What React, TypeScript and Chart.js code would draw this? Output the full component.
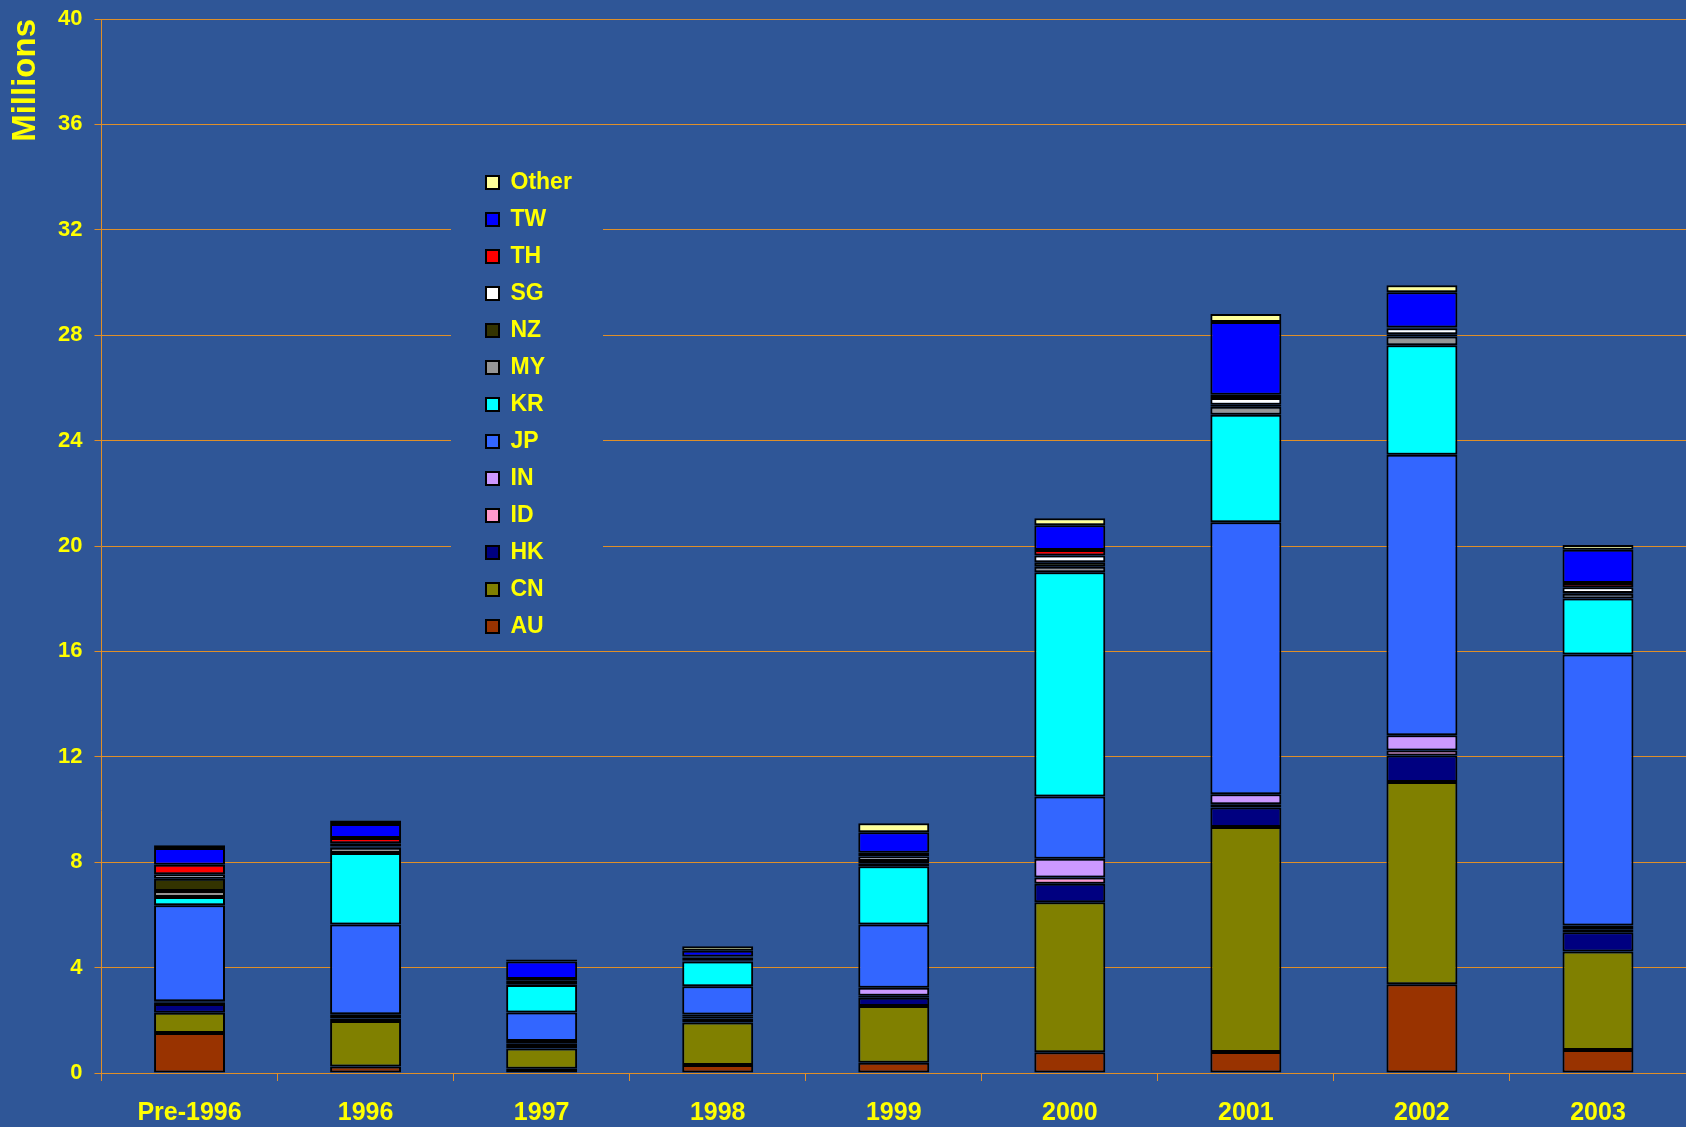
import React, { useEffect, useRef } from "react";
import { Chart, registerables } from "chart.js";

Chart.register(...registerables);

const categories = ["Pre-1996", "1996", "1997", "1998", "1999", "2000", "2001", "2002", "2003"];

const AU = [1.52, 0.25, 0.16, 0.30, 0.39, 0.79, 0.80, 3.37, 0.87];
const CN = [0.77, 1.72, 0.77, 1.62, 2.15, 5.69, 8.54, 7.67, 3.74];
const HK = [0.33, 0.10, 0.13, 0.15, 0.32, 0.70, 0.74, 1.01, 0.73];
const ID = [0.05, 0.13, 0.05, 0.08, 0.07, 0.24, 0.12, 0.19, 0.12];
const IN = [0.05, 0.03, 0.10, 0.07, 0.31, 0.71, 0.38, 0.58, 0.14];
const JP = [3.65, 3.41, 1.09, 1.07, 2.40, 2.36, 10.32, 10.64, 10.28];
const KR = [0.31, 2.71, 1.04, 0.94, 2.21, 8.51, 4.08, 4.16, 2.13];
const MY = [0.23, 0.20, 0.03, 0.03, 0.09, 0.21, 0.30, 0.33, 0.18];
const NZ = [0.46, 0.05, 0.12, 0.12, 0.11, 0.17, 0.08, 0.09, 0.03];
const SG = [0.17, 0.12, 0.03, 0.02, 0.17, 0.26, 0.26, 0.22, 0.21];
const TH = [0.36, 0.20, 0.05, 0.02, 0.14, 0.21, 0.12, 0.03, 0.17];
const TW = [0.64, 0.53, 0.66, 0.22, 0.78, 0.94, 2.76, 1.34, 1.26];
const Other = [0.10, 0.13, 0.08, 0.17, 0.34, 0.26, 0.30, 0.27, 0.18];

const seriesNames = ["AU", "CN", "HK", "ID", "IN", "JP", "KR", "MY", "NZ", "SG", "TH", "TW", "Other"];
const seriesValues = [AU, CN, HK, ID, IN, JP, KR, MY, NZ, SG, TH, TW, Other];
const seriesColors = [
  "#993300", "#808000", "#000080", "#FF99CC", "#CC99FF", "#3366FF",
  "#00FFFF", "#969696", "#333300", "#FFFFFF", "#FF0000", "#0000FF", "#FFFF99",
];

const yTicks = [0, 4, 8, 12, 16, 20, 24, 28, 32, 36, 40];

const BG = "#2F5697";
const GRID = "#E08F28";
const YELLOW = "#FFFF00";
const FONT = "'Liberation Sans', Arial, Helvetica, sans-serif";

export default function App() {
  const ref = useRef<HTMLCanvasElement | null>(null);

  useEffect(() => {
    if (!ref.current) return;
    const legendPlacer = {
      id: "legendPlacer",
      afterLayout(chart: any) {
        const lg = chart.legend;
        if (!lg) return;
        const w = lg.width;
        const h = lg.height;
        lg.left = 472;
        lg.top = 157;
        lg.right = 472 + w;
        lg.bottom = 157 + h;
      },
      afterDraw(chart: any) {
        const ctx = chart.ctx;
        ctx.save();
        ctx.fillStyle = BG;
        ctx.fillRect(451, 160, 152, 485);
        ctx.restore();
        if (chart.legend) chart.legend.draw();
      },
    };

    const chart = new Chart(ref.current, {
      type: "bar",
      data: {
        labels: categories,
        datasets: seriesNames.map((name, i) => ({
          label: name,
          data: seriesValues[i],
          backgroundColor: seriesColors[i],
          borderColor: "#000000",
          borderWidth: 2,
          borderSkipped: false,
          barPercentage: 0.403,
          categoryPercentage: 1.0,
        })),
      },
      options: {
        responsive: true,
        maintainAspectRatio: false,
        animation: false,
        layout: { padding: { top: 19, left: 0, right: 0, bottom: 0 } },
        plugins: {
          tooltip: { enabled: false },
          legend: {
            display: true,
            position: "chartArea" as any,
            align: "start",
            reverse: true,
            labels: {
              boxWidth: 13,
              boxHeight: 13,
              padding: 14,
              color: YELLOW,
              font: { family: FONT, size: 23, weight: "bold" },
            },
          },
        },
        scales: {
          x: {
            stacked: true,
            grid: {
              display: true,
              drawOnChartArea: false,
              drawTicks: true,
              tickLength: 8,
              color: GRID,
              offset: true,
            },
            border: { display: true, color: GRID, width: 1 },
            ticks: {
              color: YELLOW,
              padding: 17,
              maxRotation: 0,
              font: { family: FONT, size: 25, weight: "bold" },
            },
            afterFit: (s: any) => {
              s.height = 54;
            },
          },
          y: {
            stacked: true,
            min: 0,
            max: 40,
            afterBuildTicks: (s: any) => {
              s.ticks = yTicks.map((v) => ({ value: v }));
            },
            grid: {
              color: GRID,
              lineWidth: 1,
              drawTicks: true,
              tickLength: 7,
            },
            border: { display: true, color: GRID, width: 1 },
            ticks: {
              color: YELLOW,
              padding: 12,
              font: { family: FONT, size: 22, weight: "bold" },
            },
            title: {
              display: true,
              text: "Millions",
              align: "end",
              color: YELLOW,
              padding: { top: 6, bottom: 0 },
              font: { family: FONT, size: 33, weight: "bold" },
            },
            afterFit: (s: any) => {
              s.width = 101.5;
              s.paddingTop = 0;
              s.paddingBottom = 0;
            },
          },
        },
      },
      plugins: [legendPlacer],
    });
    return () => chart.destroy();
  }, []);

  return (
    <div
      style={{
        position: "fixed",
        left: 0,
        top: 0,
        width: 1686,
        height: 1127,
        background: BG,
      }}
    >
      <canvas ref={ref} />
    </div>
  );
}
